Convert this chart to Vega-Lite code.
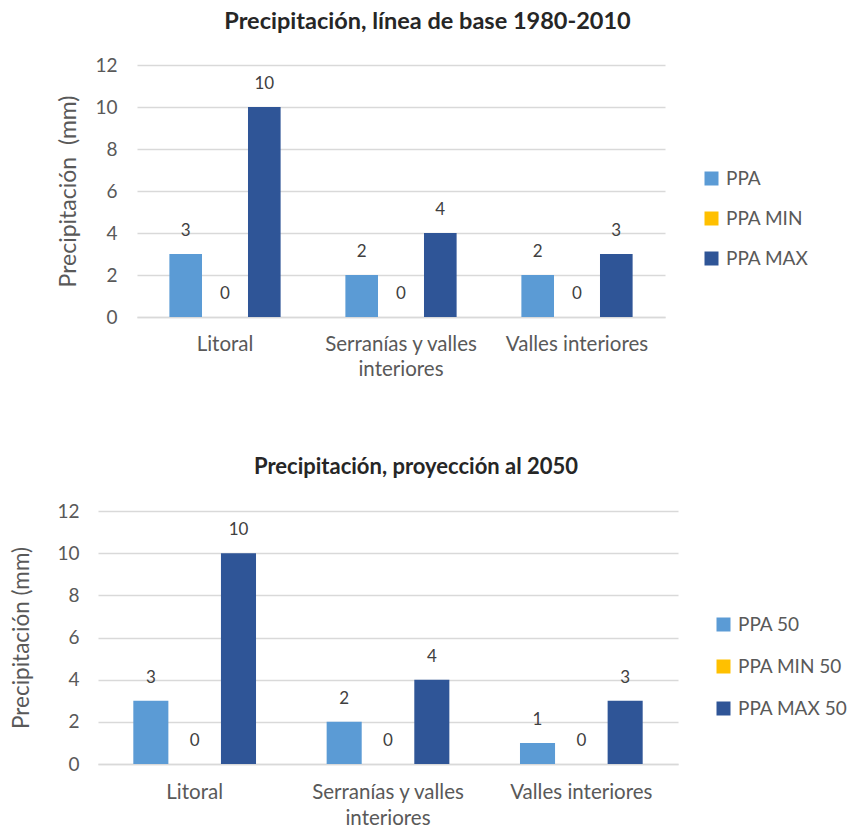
{
  "$schema": "https://vega.github.io/schema/vega-lite/v6.json",
  "padding": {"left": 10, "top": 9, "right": 0, "bottom": 0},
  "autosize": {"type": "pad"},
  "background": "white",
  "config": {
    "font": "Lato",
    "view": {"stroke": null},
    "axis": {"labelFont": "Lato", "titleFont": "Lato", "labelColor": "#595959", "titleColor": "#595959"},
    "legend": {"labelFont": "Lato"}
  },
  "datasets": {
    "base": [
      {"region": "Litoral", "series": "PPA", "value": 3},
      {"region": "Litoral", "series": "PPA MIN", "value": 0},
      {"region": "Litoral", "series": "PPA MAX", "value": 10},
      {"region": "Serranías y valles interiores", "series": "PPA", "value": 2},
      {"region": "Serranías y valles interiores", "series": "PPA MIN", "value": 0},
      {"region": "Serranías y valles interiores", "series": "PPA MAX", "value": 4},
      {"region": "Valles interiores", "series": "PPA", "value": 2},
      {"region": "Valles interiores", "series": "PPA MIN", "value": 0},
      {"region": "Valles interiores", "series": "PPA MAX", "value": 3}
    ],
    "proj": [
      {"region": "Litoral", "series": "PPA 50", "value": 3},
      {"region": "Litoral", "series": "PPA MIN 50", "value": 0},
      {"region": "Litoral", "series": "PPA MAX 50", "value": 10},
      {"region": "Serranías y valles interiores", "series": "PPA 50", "value": 2},
      {"region": "Serranías y valles interiores", "series": "PPA MIN 50", "value": 0},
      {"region": "Serranías y valles interiores", "series": "PPA MAX 50", "value": 4},
      {"region": "Valles interiores", "series": "PPA 50", "value": 1},
      {"region": "Valles interiores", "series": "PPA MIN 50", "value": 0},
      {"region": "Valles interiores", "series": "PPA MAX 50", "value": 3}
    ]
  },
  "spacing": 76,
  "resolve": {"scale": {"color": "independent", "x": "independent", "y": "independent", "xOffset": "independent"}},
  "vconcat": [
    {
      "width": 567, "height": 252,
      "data": {"name": "base"},
      "title": {"text": "Precipitación, línea de base 1980-2010", "font": "Lato", "fontSize": 23.5, "fontWeight": "bold", "color": "#262626", "offset": 23, "dx": 46},
      "encoding": {
        "x": {"field": "region", "type": "nominal", "sort": ["Litoral", "Serranías y valles interiores", "Valles interiores"], "title": null,
              "scale": {"range": [39, 567], "paddingInner": 0.33, "paddingOuter": 0.165},
              "axis": {"labelAngle": 0, "labelFontSize": 20.5, "labelPadding": 17, "labelLineHeight": 25, "ticks": false, "domainColor": "#D9D9D9", "domainWidth": 1.5, "grid": false,
                       "labelExpr": "datum.label == 'Serranías y valles interiores' ? ['Serranías y valles', 'interiores'] : datum.label"}},
        "xOffset": {"field": "series", "type": "nominal", "sort": ["PPA", "PPA MIN", "PPA MAX"], "scale": {"paddingInner": 0.17, "paddingOuter": 0.085}},
        "y": {"field": "value", "type": "quantitative", "scale": {"domain": [0, 12]},
              "axis": {"values": [0, 2, 4, 6, 8, 10, 12], "offset": -39, "title": "Precipitación\u00a0 (mm)", "titleFontSize": 23, "titleFontWeight": "normal", "titlePadding": 14, "labelFontSize": 19, "labelPadding": 20, "domain": false, "ticks": false, "gridColor": "#D9D9D9", "gridWidth": 1.5}}
      },
      "layer": [
        {
          "mark": {"type": "bar"},
          "encoding": {
            "color": {"field": "series", "type": "nominal", "sort": ["PPA", "PPA MIN", "PPA MAX"],
                      "scale": {"domain": ["PPA", "PPA MIN", "PPA MAX"], "range": ["#5B9BD5", "#FFC000", "#2F5597"]},
                      "legend": {"orient": "none", "legendX": 604, "legendY": 104, "title": null, "padding": 0, "symbolType": "square", "symbolSize": 196, "symbolStrokeWidth": 0, "symbolOpacity": 1, "labelFontSize": 19, "labelColor": "#595959", "labelOffset": 5, "rowPadding": 20}}
          }
        },
        {
          "mark": {"type": "text", "baseline": "bottom", "dy": -14, "fontSize": 17, "color": "#404040", "font": "Lato"},
          "encoding": {"text": {"field": "value", "type": "quantitative"}}
        }
      ]
    },
    {
      "width": 580, "height": 253,
      "data": {"name": "proj"},
      "title": {"text": "Precipitación, proyección al 2050", "font": "Lato", "fontSize": 22, "fontWeight": "bold", "color": "#262626", "offset": 23, "dx": 28},
      "encoding": {
        "x": {"field": "region", "type": "nominal", "sort": ["Litoral", "Serranías y valles interiores", "Valles interiores"], "title": null,
              "scale": {"paddingInner": 0.32, "paddingOuter": 0.16},
              "axis": {"labelAngle": 0, "labelFontSize": 20.5, "labelPadding": 18, "labelLineHeight": 26, "ticks": false, "domainColor": "#D9D9D9", "domainWidth": 1.5, "grid": false,
                       "labelExpr": "datum.label == 'Serranías y valles interiores' ? ['Serranías y valles', 'interiores'] : datum.label"}},
        "xOffset": {"field": "series", "type": "nominal", "sort": ["PPA 50", "PPA MIN 50", "PPA MAX 50"], "scale": {"paddingInner": 0.2, "paddingOuter": 0.1}},
        "y": {"field": "value", "type": "quantitative", "scale": {"domain": [0, 12]},
              "axis": {"values": [0, 2, 4, 6, 8, 10, 12], "title": "Precipitación (mm)", "titleFontSize": 22.5, "titleFontWeight": "normal", "titlePadding": 23, "labelFontSize": 19, "labelPadding": 19, "domain": false, "ticks": false, "gridColor": "#D9D9D9", "gridWidth": 1.5}}
      },
      "layer": [
        {
          "mark": {"type": "bar"},
          "encoding": {
            "color": {"field": "series", "type": "nominal", "sort": ["PPA 50", "PPA MIN 50", "PPA MAX 50"],
                      "scale": {"domain": ["PPA 50", "PPA MIN 50", "PPA MAX 50"], "range": ["#5B9BD5", "#FFC000", "#2F5597"]},
                      "legend": {"orient": "none", "legendX": 616, "legendY": 104, "title": null, "padding": 0, "symbolType": "square", "symbolSize": 196, "symbolStrokeWidth": 0, "symbolOpacity": 1, "labelFontSize": 19, "labelColor": "#595959", "labelOffset": 5, "rowPadding": 22}}
          }
        },
        {
          "mark": {"type": "text", "baseline": "bottom", "dy": -14, "fontSize": 17, "color": "#404040", "font": "Lato"},
          "encoding": {"text": {"field": "value", "type": "quantitative"}}
        }
      ]
    }
  ]
}
